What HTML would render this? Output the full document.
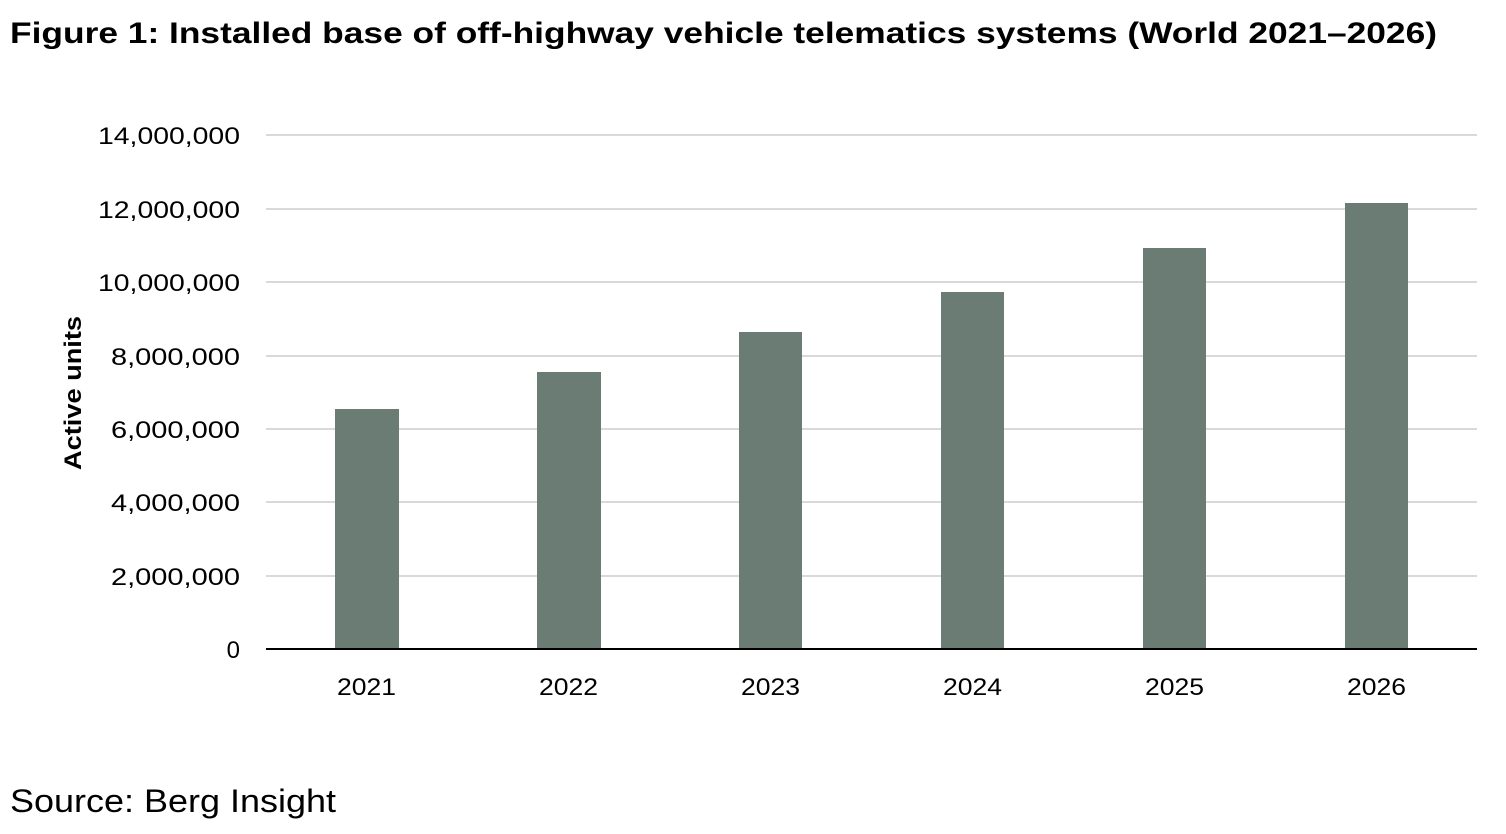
<!DOCTYPE html>
<html><head><meta charset="utf-8"><style>
body{margin:0;background:#fff;}
svg{display:block;}
text{font-family:"Liberation Sans",Arial,sans-serif;fill:#000;}
</style></head><body>
<svg width="1506" height="834" viewBox="0 0 1506 834">
<text x="10" y="43" font-size="30" font-weight="bold" textLength="1427" lengthAdjust="spacingAndGlyphs">Figure 1: Installed base of off-highway vehicle telematics systems (World 2021–2026)</text>
<g stroke="#d9d9d9" stroke-width="2">
<line x1="266" x2="1477" y1="135" y2="135"/>
<line x1="266" x2="1477" y1="209" y2="209"/>
<line x1="266" x2="1477" y1="282" y2="282"/>
<line x1="266" x2="1477" y1="356" y2="356"/>
<line x1="266" x2="1477" y1="429" y2="429"/>
<line x1="266" x2="1477" y1="502" y2="502"/>
<line x1="266" x2="1477" y1="576" y2="576"/>
</g>
<g fill="#6b7c74">
<rect x="335" y="409" width="64" height="240"/>
<rect x="537" y="372" width="64" height="277"/>
<rect x="739" y="332" width="63" height="317"/>
<rect x="941" y="292" width="63" height="357"/>
<rect x="1143" y="248" width="63" height="401"/>
<rect x="1345" y="203" width="63" height="446"/>
</g>
<line x1="266" x2="1477" y1="649" y2="649" stroke="#000" stroke-width="2"/>
<g font-size="24">
<text x="98" y="144" textLength="142" lengthAdjust="spacingAndGlyphs">14,000,000</text>
<text x="98" y="218" textLength="142" lengthAdjust="spacingAndGlyphs">12,000,000</text>
<text x="98" y="291" textLength="142" lengthAdjust="spacingAndGlyphs">10,000,000</text>
<text x="111" y="365" textLength="129" lengthAdjust="spacingAndGlyphs">8,000,000</text>
<text x="111" y="438" textLength="129" lengthAdjust="spacingAndGlyphs">6,000,000</text>
<text x="111" y="511" textLength="129" lengthAdjust="spacingAndGlyphs">4,000,000</text>
<text x="111" y="585" textLength="129" lengthAdjust="spacingAndGlyphs">2,000,000</text>
<text x="240" y="658" text-anchor="end">0</text>
</g>
<g font-size="24">
<text x="337" y="695" textLength="59" lengthAdjust="spacingAndGlyphs">2021</text>
<text x="539" y="695" textLength="59" lengthAdjust="spacingAndGlyphs">2022</text>
<text x="741" y="695" textLength="59" lengthAdjust="spacingAndGlyphs">2023</text>
<text x="943" y="695" textLength="59" lengthAdjust="spacingAndGlyphs">2024</text>
<text x="1145" y="695" textLength="59" lengthAdjust="spacingAndGlyphs">2025</text>
<text x="1347" y="695" textLength="59" lengthAdjust="spacingAndGlyphs">2026</text>
</g>
<text transform="translate(81,470) rotate(-90)" font-size="24" font-weight="bold" textLength="154" lengthAdjust="spacingAndGlyphs">Active units</text>
<text x="10" y="812" font-size="32" textLength="326" lengthAdjust="spacingAndGlyphs">Source: Berg Insight</text>
</svg>
</body></html>
